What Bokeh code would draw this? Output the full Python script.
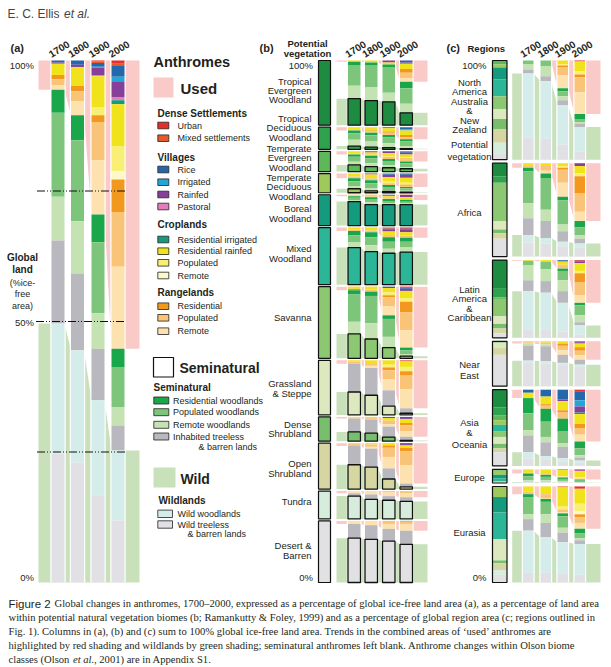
from bokeh.plotting import figure
from bokeh.models import Range1d, ColumnDataSource
from bokeh.embed import file_html
from bokeh.resources import INLINE
from bokeh.core.properties import value

# ======================= DATA =======================
YEARS = ["1700", "1800", "1900", "2000"]

CLASS_CODES = ["U", "M", "R", "I", "V", "P", "CI", "CR", "CP", "CX",
               "GR", "GP", "GX", "WR", "WP", "WX", "T", "W", "B"]
USED_CODES = CLASS_CODES[:13]
WILD_CODES = ["W", "B", "wild"]

CLASS_COLORS = {
    "U": "#e3302d", "M": "#e4592c", "R": "#2467ad", "I": "#22a6d6",
    "V": "#86409a", "P": "#e27fbb", "CI": "#169a7d", "CR": "#f1e31b",
    "CP": "#f8ef74", "CX": "#fcf8c8", "GR": "#f2981f", "GP": "#f9c478",
    "GX": "#fde1ae", "WR": "#1aa74b", "WP": "#7ec57c", "WX": "#c4e2b2",
    "T": "#b8b8be", "W": "#d4ecea", "B": "#e0e0e5",
}
USED_SHADE = "#f9cac7"
WILD_SHADE = "#c9e1bb"

# ---- panel (a): % of global ice-free land, in CLASS_CODES order ----
a_1700 = [0, 0, 0.4, 0, 0.2, 0, 0, 2.2, 0, 0, 0.8, 1.1, 0.9, 4.4, 16.1, 8.4, 15.9, 24.9, 24.7]
a_1800 = [0, 0, 0.8, 0, 0.5, 0, 0, 3.6, 0, 0, 1.0, 1.9, 2.7, 4.8, 15.5, 10.0, 14.7, 21.5, 23.0]
a_1900 = [0.2, 0.3, 0.7, 0.2, 1.4, 0.2, 0, 5.9, 1.6, 0, 1.3, 7.3, 10.4, 5.3, 13.6, 6.8, 9.9, 18.2, 16.7]
a_2000 = [0.6, 0.3, 2.2, 1.0, 2.9, 0.6, 0.8, 8.0, 4.8, 1.6, 6.2, 10.5, 15.7, 3.5, 7.7, 3.5, 4.8, 13.4, 11.9]

# ---- panel (b): potential vegetation biomes ----
biome_names = ["Tropical Evergreen Woodland", "Tropical Deciduous Woodland",
               "Temperate Evergreen Woodland", "Temperate Deciduous Woodland",
               "Boreal Woodland", "Mixed Woodland", "Savanna", "Grassland & Steppe",
               "Dense Shrubland", "Open Shrubland", "Tundra", "Desert & Barren"]
biome_codes = ["TE", "TD", "TEv", "TDc", "Bo", "Mi", "Sa", "GS", "DS", "OS", "Tu", "DB"]
biome_share = [12.8, 4.4, 4.0, 3.8, 6.1, 11.3, 14.2, 10.8, 4.8, 9.1, 5.5, 12.2]
biome_colors = ["#1d8c41", "#2ea24d", "#5db85a", "#9dca5b", "#149a7c", "#2cb698",
                "#8cc771", "#dce9be", "#77bf6c", "#d6d6a2", "#d6ecdc", "#e1e1e3"]

# % of biome area per year (wild = wildlands)
b_trop_evergreen = [dict(CR=2, WR=5, WP=32, WX=20, wild=41),
                    dict(CR=3, WR=4, WP=34, WX=21, wild=38),
                    dict(V=3, CR=3, WR=4, WP=40, WX=14, wild=36),
                    dict(R=3, V=2, CR=8, GR=6, GP=8, GX=6, WR=10, WP=24, WX=14, wild=19)]
b_trop_deciduous = [dict(CR=10, GP=5, WR=12, WP=30, WX=28, wild=15),
                    dict(CR=15, GR=5, GP=5, WR=12, WP=28, WX=25, wild=10),
                    dict(R=5, CR=15, GR=5, GP=10, WR=12, WP=25, WX=20, wild=8),
                    dict(R=10, I=5, CR=20, GR=10, GP=10, WR=10, WP=20, WX=12, wild=3)]
b_temp_evergreen = [dict(CR=10, GP=5, WR=12, WP=25, WX=15, wild=33),
                    dict(V=5, CR=12, GP=5, WR=12, WP=25, WX=17, wild=24),
                    dict(R=3, V=5, CR=15, CP=5, GP=10, WR=10, WP=20, WX=13, wild=19),
                    dict(U=2, R=5, V=8, CR=15, CP=5, GR=5, GP=10, WR=10, WP=18, WX=8, wild=14)]
b_temp_deciduous = [dict(CR=15, GP=10, WR=15, WP=25, WX=14, wild=21),
                    dict(V=5, CR=20, GP=10, WR=15, WP=25, WX=15, wild=10),
                    dict(M=3, R=5, V=10, CR=25, CP=7, GP=10, WR=10, WP=15, WX=8, wild=7),
                    dict(U=3, R=5, V=12, CI=3, CR=25, CP=10, GR=5, GP=7, WR=8, WP=12, WX=7, wild=3)]
b_boreal = [dict(CR=3, GP=2, WR=5, WP=7, WX=5, wild=78),
            dict(CR=5, GP=3, WR=6, WP=10, WX=8, wild=68),
            dict(R=2, V=3, CR=6, GP=3, WR=6, WP=7, WX=5, wild=68),
            dict(U=1, R=3, V=4, CR=6, GP=3, WR=6, WP=5, WX=4, wild=68)]
b_mixed = [dict(CR=4, GP=2, WR=8, WP=12, WX=9, wild=65),
           dict(CR=5, GP=3, WR=9, WP=14, WX=11, wild=58),
           dict(M=2, R=2, V=3, CR=6, GP=4, WR=8, WP=12, WX=8, wild=55),
           dict(U=2, R=2, V=4, CR=6, GP=4, WR=7, WP=10, WX=8, wild=57)]
b_savanna = [dict(CR=3, GR=2, WR=6, WP=38, WX=17, wild=34),
             dict(CR=4, GP=3, WR=6, WP=38, WX=22, wild=27),
             dict(R=2, CR=6, CP=4, GR=3, GP=12, GX=13, WR=5, WP=25, WX=15, wild=15),
             dict(U=1, V=3, R=2, CR=10, CP=5, GR=15, GP=25, GX=24, WR=4, WP=5, WX=3, wild=3)]
b_grassland = [dict(CR=2, GP=4, T=52, wild=42),
               dict(CR=5, GP=5, GX=4, T=50, wild=36),
               dict(CR=8, CP=5, GR=5, GP=17, GX=20, T=29, wild=16),
               dict(U=1, M=1, CR=10, CP=8, GR=8, GP=25, GX=35, T=9, wild=3)]
b_dense_shrub = [dict(CR=3, GP=4, T=55, wild=38),
                 dict(CR=5, GP=7, T=55, wild=33),
                 dict(R=5, CR=10, GP=15, GX=10, T=43, wild=17),
                 dict(R=5, V=5, CR=15, GR=10, GP=25, GX=22, T=15, wild=3)]
b_open_shrub = [dict(CR=2, GP=4, T=41, wild=53),
                dict(CR=3, GP=5, GX=4, T=40, wild=48),
                dict(CR=5, GR=5, GP=20, GX=25, T=23, wild=22),
                dict(V=3, R=2, CR=5, GR=8, GP=30, GX=40, T=7, wild=5)]
b_tundra = [dict(GX=8, T=10, wild=82),
            dict(GX=12, T=18, wild=70),
            dict(GP=5, GX=13, T=15, wild=67),
            dict(GP=7, GX=15, T=15, wild=63)]
b_desert = [dict(GX=5, T=23, wild=72),
            dict(GX=7, T=23, wild=70),
            dict(GP=5, GX=8, T=20, wild=67),
            dict(R=1, GP=5, GX=10, T=22, wild=62)]
b_biome_data = [b_trop_evergreen, b_trop_deciduous, b_temp_evergreen, b_temp_deciduous,
                b_boreal, b_mixed, b_savanna, b_grassland, b_dense_shrub, b_open_shrub,
                b_tundra, b_desert]

# ---- panel (c): regions ----
region_names = ["North America Australia & New Zealand", "Africa", "Latin America & Caribbean",
                "Near East", "Asia & Oceania", "Europe", "Eurasia"]
region_share = [19.0, 17.9, 14.9, 8.6, 14.6, 2.6, 18.4]
# potential vegetation of each region, % by biome (biome_codes order)
c_veg_na = [0, 0, 4, 3, 12, 17, 13, 10, 10, 14, 11, 6]
c_veg_africa = [14, 7, 0, 0, 0, 0, 41, 9, 4, 6, 0, 19]
c_veg_latin = [36, 12, 2, 0, 0, 0, 22, 10, 6, 6, 0, 6]
c_veg_neareast = [0, 0, 3, 0, 0, 0, 0, 12, 0, 15, 0, 70]
c_veg_asia = [23, 11, 6, 6, 0, 9, 7, 9, 6, 5, 0, 18]
c_veg_europe = [0, 0, 10, 30, 25, 25, 0, 10, 0, 0, 0, 0]
c_veg_eurasia = [0, 0, 0, 11, 16, 28, 0, 22, 3, 7, 5, 8]
c_veg_data = [c_veg_na, c_veg_africa, c_veg_latin, c_veg_neareast, c_veg_asia,
              c_veg_europe, c_veg_eurasia]

c_na = [dict(WP=4, WX=5, T=4, W=65, B=22),
        dict(WP=6, WX=10, T=5, W=58, B=21),
        dict(CR=4, CP=1, GR=2, GP=8, GX=13, WR=3, WP=5, WX=4, T=5, W=40, B=15),
        dict(U=1, CR=10, CP=3, GR=3, GP=15, GX=22, WR=5, WP=3, WX=2, T=3, W=25, B=8)]
c_africa = [dict(CR=3, GP=2, WR=4, WP=34, WX=16, T=18, W=8, B=15),
            dict(CR=3, GP=5, GX=3, WR=5, WP=34, WX=12, T=18, W=6, B=14),
            dict(CR=3, CP=2, GR=2, GP=14, GX=15, WR=4, WP=25, WX=8, T=11, W=5, B=11),
            dict(V=2, R=1, CR=8, CP=3, GR=18, GP=20, GX=10, WR=7, WP=8, WX=4, T=5, W=4, B=10)]
c_latin = [dict(CR=1, WP=6, WX=19, T=14, W=50, B=10),
           dict(CR=2, WP=10, WX=15, T=15, W=48, B=10),
           dict(R=1, V=1, CR=4, GP=5, WR=3, WP=12, WX=14, T=15, W=37, B=8),
           dict(U=1, V=2, R=1, CR=10, CP=3, GR=12, GP=16, GX=10, WR=3, WP=13, WX=9, T=4, W=12, B=4)]
c_neareast = [dict(CR=2, GP=3, WX=5, T=33, W=5, B=52),
              dict(CR=3, GP=4, WX=4, T=33, W=5, B=51),
              dict(CR=5, GR=5, GP=10, GX=10, T=18, W=5, B=47),
              dict(U=2, V=3, CR=8, GR=8, GP=10, GX=10, T=11, W=5, B=43)]
c_asia = [dict(R=4, CR=7, WR=20, WP=22, WX=7, T=22, W=8, B=10),
          dict(R=9, CR=10, GR=2, GP=4, WR=17, WP=20, WX=7, T=18, W=5, B=8),
          dict(R=13, V=2, CR=12, GR=3, GP=8, WR=17, WP=15, WX=5, T=15, W=4, B=6),
          dict(U=2, R=12, I=8, V=8, CI=2, CR=13, GR=6, GP=8, GX=9, WR=9, WP=9, WX=3, T=4, W=3, B=4)]
c_europe = [dict(CR=25, GP=5, WR=20, WP=30, WX=10, T=5, W=5),
            dict(CR=35, GP=5, WR=15, WP=25, WX=10, T=5, W=5),
            dict(M=5, CR=45, CP=5, GP=5, WR=10, WP=15, WX=8, T=4, W=3),
            dict(U=8, V=5, CR=45, CP=10, GP=7, WR=8, WP=10, WX=4, T=2, W=1)]
c_eurasia = [dict(CR=5, GP=3, WR=3, WP=18, WX=5, T=12, W=44, B=10),
             dict(CR=8, GP=4, GX=1, WR=3, WP=13, WX=9, T=15, W=37, B=10),
             dict(M=1, CR=20, CP=3, GP=3, GX=1, WR=3, WP=12, WX=5, T=10, W=33, B=9),
             dict(U=2, M=1, CR=15, CP=8, CX=3, GR=3, GP=6, GX=6, WR=5, WP=5, WX=2, T=4, W=32, B=8)]
c_region_data = [c_na, c_africa, c_latin, c_neareast, c_asia, c_europe, c_eurasia]

# ======================= LAYOUT =======================
Y100_PX, Y0_PX = 60.0, 582.0
PXPER = (Y0_PX - Y100_PX) / 100.0


def ypx(px):
    """page pixel row -> percent units of the y scale (layout of texts)"""
    return (Y0_PX - px) / PXPER


FW, FH = 611, 667
p = figure(width=FW, height=FH, x_range=Range1d(0, FW),
           y_range=Range1d(ypx(FH), ypx(0)),
           output_backend="svg", toolbar_location=None, min_border=0,
           x_axis_location=None, y_axis_location=None)
p.xgrid.visible = False
p.ygrid.visible = False
p.outline_line_color = None

quads = dict(left=[], right=[], top=[], bottom=[], color=[])
under = dict(left=[], right=[], top=[], bottom=[])
boxes = dict(left=[], right=[], top=[], bottom=[], color=[])
red_xs, red_ys, grn_xs, grn_ys = [], [], [], []


def add_q(d, l, r, t, b, c=None):
    d["left"].append(l); d["right"].append(r); d["top"].append(t); d["bottom"].append(b)
    if c is not None:
        d["color"].append(c)


def draw_segment(lefts, bw, sl, sr, top, bot, comps, wild_color=None):
    h = top - bot
    fr = []
    for c in comps:
        tot = float(sum(c.values()))
        fr.append({k: v / tot for k, v in c.items()})
    used = [sum(f.get(k, 0) for k in USED_CODES) for f in fr]
    wild = [sum(f.get(k, 0) for k in WILD_CODES) for f in fr]
    for lev, xs_l, ys_l, edge in ((used, red_xs, red_ys, top), (wild, grn_xs, grn_ys, bot)):
        if max(lev) <= 0:
            continue
        lv = [top - u * h for u in lev] if edge == top else [bot + w * h for w in lev]
        xs = [sl]; ys = [lv[0]]
        for i, L in enumerate(lefts):
            if i > 0:
                xs.append(L); ys.append(lv[i])
            if i < len(lefts) - 1:
                xs.append(L + bw); ys.append(lv[i])
        xs.append(sr); ys.append(lv[-1])
        xs += [sr, sl]; ys += [edge, edge]
        xs_l.append(xs); ys_l.append(ys)
    for i, L in enumerate(lefts):
        add_q(under, L - 1.2, L + bw + 1.2, top, bot)
        y = top
        for k in CLASS_CODES + ["wild"]:
            v = fr[i].get(k, 0)
            if v <= 0:
                continue
            y2 = y - v * h
            if k == "wild":
                add_q(boxes, L, L + bw, y, y2, wild_color)
            else:
                add_q(quads, L, L + bw, y, y2, CLASS_COLORS[k])
            y = y2


# ---- panel (a) ----
A_LEFTS, A_W = [51, 70.5, 91, 111], 13
a_comps = [dict(zip(CLASS_CODES, arr)) for arr in (a_1700, a_1800, a_1900, a_2000)]
draw_segment(A_LEFTS, A_W, 38, 139, 100.0, 0.0, a_comps)

# ---- panel (b) ----
B_LEFTS, B_W = [347.5, 364.5, 382, 399.5], 12.5
B_GAP = 2.0 / PXPER
b_scale = (100.0 - B_GAP * (len(biome_share) - 1)) / sum(biome_share)
b_ranges = []
top = 100.0
for share, comps, col in zip(biome_share, b_biome_data, biome_colors):
    bot = top - share * b_scale
    b_ranges.append((top, bot))
    draw_segment(B_LEFTS, B_W, 336, 427, top, bot, comps, wild_color=col)
    top = bot - B_GAP

# ---- panel (c) ----
C_LEFTS, C_W = [522.5, 540, 557, 574], 10.5
C_GAP = 3.5 / PXPER
c_scale = (100.0 - C_GAP * (len(region_share) - 1)) / sum(region_share)
c_ranges = []
top = 100.0
for share, comps in zip(region_share, c_region_data):
    bot = top - share * c_scale
    c_ranges.append((top, bot))
    draw_segment(C_LEFTS, C_W, 511.7, 600, top, bot, comps)
    top = bot - C_GAP

# draw shading, underlays, bars
p.patches(xs=red_xs, ys=red_ys, fill_color=USED_SHADE, line_color=None)
p.patches(xs=grn_xs, ys=grn_ys, fill_color=WILD_SHADE, line_color=None)
p.quad(source=ColumnDataSource(under), left="left", right="right", top="top", bottom="bottom",
       fill_color="white", line_color=None)
p.quad(source=ColumnDataSource(quads), left="left", right="right", top="top", bottom="bottom",
       fill_color="color", line_color=None)
p.quad(source=ColumnDataSource(boxes), left="left", right="right", top="top", bottom="bottom",
       fill_color="color", line_color="#111111", line_width=1.3)

# biome column (b)
p.quad(left=[318] * len(b_ranges), right=[330] * len(b_ranges),
       top=[t for t, b in b_ranges], bottom=[b for t, b in b_ranges],
       fill_color=biome_colors, line_color="#111111", line_width=1.2)

# region column (c): potential vegetation
rv = dict(left=[], right=[], top=[], bottom=[], color=[])
for (t, b), veg in zip(c_ranges, c_veg_data):
    tot = float(sum(veg))
    y = t
    for v, col in zip(veg, biome_colors):
        if v <= 0:
            continue
        y2 = y - v / tot * (t - b)
        add_q(rv, 492, 506.5, y, y2, col)
        y = y2
p.quad(source=ColumnDataSource(rv), left="left", right="right", top="top", bottom="bottom",
       fill_color="color", line_color=None)
p.quad(left=[492] * len(c_ranges), right=[506.5] * len(c_ranges),
       top=[t for t, b in c_ranges], bottom=[b for t, b in c_ranges],
       fill_color=None, line_color="#111111", line_width=1.2)

# dash-dot reference lines in (a)
p.segment(x0=[36.5, 35.5, 36.5], x1=[125, 125, 125], y0=[75, 50, 25], y1=[75, 50, 25],
          line_color="#111111", line_width=1, line_dash="8 2 1 2 1 2")

# ======================= TEXT =======================
INK = "#231f20"


def T(x, y, s, size=9.0, style="normal", align="left", baseline="middle",
      font="Liberation Sans", color=INK, angle=0.0):
    p.text(x=[x], y=[ypx(y)], text=[s], text_font=value(font),
           text_font_size=value(f"{size}px"), text_font_style=style,
           text_align=align, text_baseline=baseline, text_color=color, angle=angle)


T(7, 13, "E. C. Ellis", 12, color="#444444")
T(63.5, 13, "et al.", 12, style="italic", color="#444444")

# panel headers
T(10, 47, "(a)", 11, "bold")
T(259, 47, "(b)", 11, "bold")
T(446, 47, "(c)", 11, "bold")
T(307, 42.5, "Potential", 9.5, "bold", align="center")
T(307, 52.5, "vegetation", 9.5, "bold", align="center")
T(467, 47.5, "Regions", 9.5, "bold")

for lefts in (A_LEFTS, B_LEFTS, C_LEFTS):
    for L, yr in zip(lefts, YEARS):
        T(L, 57.5, yr, 10, "bold", baseline="bottom", angle=0.56)

# y labels
for xr in (33.5, 312.5, 486):
    T(xr, 65, "100%", 9.5, align="right")
    T(xr, 577, "0%", 9.5, align="right")
T(33.5, 322, "50%", 9.5, align="right")
T(22, 257, "Global", 10, "bold", align="center")
T(22, 268.5, "land", 10, "bold", align="center")
T(22, 282, "(%ice-", 9, align="center")
T(22, 293.5, "free", 9, align="center")
T(22, 305, "area)", 9, align="center")

# biome labels (b)
biome_label_lines = [("Tropical", 80.7), ("Evergreen", 90), ("Woodland", 99.3),
                     ("Tropical", 117.5), ("Deciduous", 127), ("Woodland", 136.5),
                     ("Temperate", 147.7), ("Evergreen", 157), ("Woodland", 166.5),
                     ("Temperate", 177), ("Deciduous", 186.3), ("Woodland", 195.7),
                     ("Boreal", 208), ("Woodland", 218), ("Mixed", 248), ("Woodland", 258),
                     ("Savanna", 316.7), ("Grassland", 383), ("& Steppe", 392.5),
                     ("Dense", 423.7), ("Shrubland", 433), ("Open", 462.7),
                     ("Shrubland", 472.7), ("Tundra", 501), ("Desert &", 545),
                     ("Barren", 555)]
for s, y in biome_label_lines:
    T(311, y, s, 9.5, align="right")

region_label_lines = [("North", 81.7), ("America", 91), ("Australia", 100.5), ("&", 110),
                      ("New", 119.5), ("Zealand", 129.3), ("Potential", 143.7),
                      ("vegetation", 155.5), ("Africa", 211.7), ("Latin", 289.3),
                      ("America", 298.3), ("&", 307.7), ("Caribbean", 317),
                      ("Near", 364.3), ("East", 375.3), ("Asia", 422.3), ("&", 432.3),
                      ("Oceania", 444), ("Europe", 477.3), ("Eurasia", 532.3)]
for s, y in region_label_lines:
    T(469, y, s, 9.5, align="center")

# ---- legend ----
T(153, 61, "Anthromes", 14.5, "bold")
p.quad(left=[153], right=[173], top=[ypx(77)], bottom=[ypx(97)], fill_color=USED_SHADE, line_color=None)
T(180, 87.5, "Used", 15, "bold")
p.quad(left=[153], right=[173], top=[ypx(357)], bottom=[ypx(376.5)], fill_color="white",
       line_color="#111111", line_width=1.2)
T(179, 367, "Seminatural", 14, "bold")
p.quad(left=[153], right=[175], top=[ypx(467)], bottom=[ypx(487)], fill_color=WILD_SHADE, line_color=None)
T(180, 478, "Wild", 14, "bold")

legend_heads = [("Dense Settlements", 157, 113), ("Villages", 157, 157), ("Croplands", 157, 224),
                ("Rangelands", 157, 292.3), ("Seminatural", 153, 387), ("Wildlands", 158, 500)]
for s, x, y in legend_heads:
    T(x, y, s, 10, "bold")

legend_items = [("U", "Urban", 125), ("M", "Mixed settlements", 137.7),
                ("R", "Rice", 169), ("I", "Irrigated", 181.7), ("V", "Rainfed", 194),
                ("P", "Pastoral", 206),
                ("CI", "Residential irrigated", 239), ("CR", "Residential rainfed", 250.7),
                ("CP", "Populated", 262.3), ("CX", "Remote", 275),
                ("GR", "Residential", 305.7), ("GP", "Populated", 317.3), ("GX", "Remote", 330.7)]
for code, s, y in legend_items:
    p.quad(left=[157.3], right=[168.3], top=[ypx(y - 3.3)], bottom=[ypx(y + 3.3)],
           fill_color=CLASS_COLORS[code], line_color="#222222", line_width=0.8)
    T(177, y, s, 9)

semi_items = [("WR", "Residential woodlands", 400), ("WP", "Populated woodlands", 411.7),
              ("WX", "Remote woodlands", 424.3), ("T", "Inhabited treeless", 436)]
for code, s, y in semi_items:
    p.quad(left=[153.3], right=[168.3], top=[ypx(y - 3.5)], bottom=[ypx(y + 3.5)],
           fill_color=CLASS_COLORS[code], line_color="#222222", line_width=0.8)
    T(172.5, y, s, 9)
T(198, 446, "& barren lands", 9)

wild_items = [("W", "Wild woodlands", 513.3), ("B", "Wild treeless", 524)]
for code, s, y in wild_items:
    p.quad(left=[157.3], right=[172], top=[ypx(y - 3.7)], bottom=[ypx(y + 3.7)],
           fill_color=CLASS_COLORS[code], line_color="#222222", line_width=0.8)
    T(177, y, s, 9)
T(187, 533.5, "& barren lands", 9)

# ---- caption ----
SERIF = "Liberation Serif"
CS = 10.6
T(8, 603, "Figure 2", 11.5, color=INK)
T(54, 603, "Global changes in anthromes, 1700\u20132000, expressed as a percentage of global "
   "ice-free land area (a), as a percentage of land area", CS, font=SERIF)
T(8, 617, "within potential natural vegetation biomes (b; Ramankutty & Foley, 1999) and as a "
   "percentage of global region area (c; regions outlined in", CS, font=SERIF)
T(8, 631, "Fig. 1). Columns in (a), (b) and (c) sum to 100% global ice-free land area. Trends in "
   "the combined areas of \u2018used\u2019 anthromes are", CS, font=SERIF)
T(8, 645, "highlighted by red shading and wildlands by green shading; seminatural anthromes "
   "left blank. Anthrome changes within Olson biome", CS, font=SERIF)
T(8, 659, "classes (Olson", CS, font=SERIF)
T(72.5, 659, "et al.", CS, style="italic", font=SERIF)
T(93.5, 659, ", 2001) are in Appendix S1.", CS, font=SERIF)

open("out.html", "w").write(file_html(p, INLINE))
